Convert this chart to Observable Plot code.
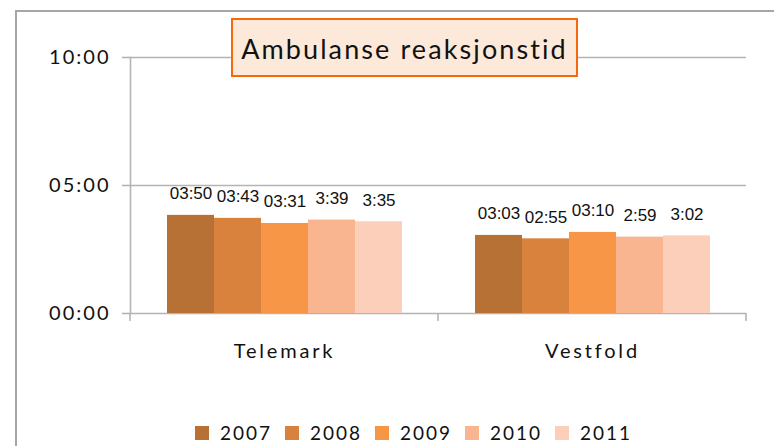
<!DOCTYPE html>
<html>
<head>
<meta charset="utf-8">
<script src="https://cdn.jsdelivr.net/npm/d3@7"></script>
<script src="https://cdn.jsdelivr.net/npm/@observablehq/plot@0.6"></script>
<style>
  html, body { margin: 0; padding: 0; background: white; }
  #wrap { position: relative; width: 774px; height: 446px; overflow: hidden; font-family: Lato, "Open Sans", sans-serif; }
  #chart { position: absolute; left: 0; top: 0; }
  #chart svg text { letter-spacing: 2px; }
  #chart svg g[aria-label^="fx-axis"] text { letter-spacing: 2.8px; }
  #chart svg line, #chart svg path { stroke: #B4B4B4; stroke-width: 1.6px; stroke-opacity: 1; }
  #frame { position: absolute; left: 15px; top: 10px; width: 800px; height: 500px; border-top: 2px solid #A6A6A6; border-left: 2px solid #A6A6A6; }
  #title { position: absolute; left: 231px; top: 18px; width: 343px; height: 53px; background: #FDE9D9; border: 2px solid #F5680C; display: flex; align-items: center; justify-content: center; font-size: 27px; letter-spacing: 2.1px; color: #111; padding-top: 2px; box-sizing: content-box; }
  #legend { position: absolute; left: 195px; top: 421px; display: flex; }
  .item { width: 90px; display: flex; align-items: center; font-size: 19px; letter-spacing: 2px; color: #111; }
  .sw { width: 14px; height: 14px; margin-right: 11px; flex: none; }
</style>
</head>
<body>
<div id="wrap">
  <div id="chart"></div>
  <div id="frame"></div>
  <div id="title">Ambulanse reaksjonstid</div>
  <div id="legend"></div>
</div>
<script>
const regions = ["Telemark", "Vestfold"];
const years = ["2007", "2008", "2009", "2010", "2011"];
// response times in seconds
const telemarkSeconds = [230, 223, 211, 219, 215];
const vestfoldSeconds = [183, 175, 190, 179, 182];
const telemarkLabels = ["03:50", "03:43", "03:31", "3:39", "3:35"];
const vestfoldLabels = ["03:03", "02:55", "03:10", "2:59", "3:02"];
const yTicks = [0, 300, 600];
const yTickLabels = ["00:00", "05:00", "10:00"];
const colors = ["#B87134", "#D9823E", "#F79646", "#F9B58F", "#FBCFBA"];

const seriesSeconds = [telemarkSeconds, vestfoldSeconds];
const seriesLabels = [telemarkLabels, vestfoldLabels];
const data = regions.flatMap((region, i) =>
  years.map((year, j) => ({region, year, seconds: seriesSeconds[i][j], label: seriesLabels[i][j]}))
);

const chart = Plot.plot({
  width: 774,
  height: 446,
  marginLeft: 130,
  marginRight: 28,
  marginTop: 57,
  marginBottom: 133,
  style: {background: "transparent", fontFamily: "Lato, 'Open Sans', sans-serif", fontSize: "20px", color: "#111"},
  fx: {domain: regions, padding: 0, label: null, axis: "bottom", tickSize: 0, tickPadding: 30},
  x: {domain: years, paddingInner: 0, paddingOuter: 0.75, axis: null},
  y: {domain: [0, 600], ticks: yTicks, tickFormat: d => yTickLabels[yTicks.indexOf(d)], tickSize: 8, tickPadding: 12, label: null, line: true},
  color: {domain: years, range: colors},
  marks: [
    Plot.ruleY(yTicks, {stroke: "#BFBFBF"}),
    Plot.barY(data, {fx: "region", x: "year", y: "seconds", fill: "year"}),
    Plot.text(data, {fx: "region", x: "year", y: "seconds", text: "label", dy: -16, lineAnchor: "bottom",
      fontSize: 17, fontFamily: "'Liberation Sans', Arial, sans-serif", fill: "#111"})
  ]
});

document.getElementById("chart").appendChild(chart);

// value labels: no extra letter spacing
d3.select(chart).selectAll('g[aria-label="text"] text').style("letter-spacing", "0px");

// category boundary ticks below the baseline
const fx = chart.scale("fx");
const y = chart.scale("y");
const y0 = y.apply(0);
const bounds = regions.map(r => fx.apply(r)).concat([fx.apply(regions[regions.length - 1]) + fx.bandwidth]);
d3.select(chart).append("g")
  .selectAll("line").data(bounds).join("line")
  .attr("x1", d => d).attr("x2", d => d)
  .attr("y1", y0).attr("y2", y0 + 8)
  .attr("stroke", "#B4B4B4");

// legend
const legend = d3.select("#legend");
years.forEach((yr, i) => {
  const it = legend.append("div").attr("class", "item");
  it.append("div").attr("class", "sw").style("background", colors[i]);
  it.append("span").text(yr);
});
</script>
</body>
</html>
